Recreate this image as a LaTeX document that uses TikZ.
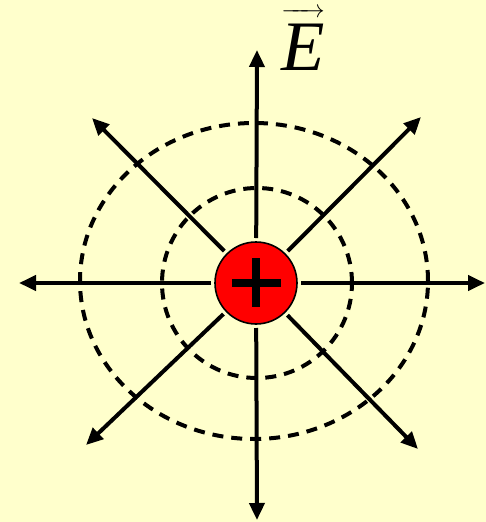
\documentclass[tikz,border=0pt]{standalone}
\usepackage{fontspec}
\setmainfont{Liberation Serif}
\usetikzlibrary{positioning,arrows.meta}
\definecolor{paper}{HTML}{FFFFCC}
\definecolor{charge}{HTML}{FF0000}

\begin{document}
\begin{tikzpicture}[x=1pt, y=-1pt, >={Triangle[length=17pt, width=15pt]}]
	% Background and frame of the picture
	\fill[paper] (0,0) rectangle (486,522);
	\useasboundingbox (0,0) rectangle (486,522);

	% Equipotential lines
	\draw[line width=4pt, dash pattern=on 11pt off 8pt] (257,283) ellipse [x radius=95pt, y radius=95pt];
	\draw[line width=4pt, dash pattern=on 11pt off 8pt] (254,281) ellipse [x radius=174pt, y radius=158pt];

	% Positive point charge
	\node[draw, circle, fill=charge, line width=1.6pt, minimum size=82pt, inner sep=0pt, outer sep=4pt] (q) at (256,283) {};
	\draw[line width=8.5pt] (232,283) -- (281,283);
	\draw[line width=8.5pt] (256,258) -- (256,307);

	% End points of the field lines
	\coordinate (up) at (257,50);
	\coordinate (down) at (257,520);
	\coordinate (left) at (19,283);
	\coordinate (right) at (485,283);
	\coordinate (ul) at (92,118);
	\coordinate (ur) at (421,117);
	\coordinate (dl) at (86,445);
	\coordinate (dr) at (418,449);

	% Field lines pointing outwards
	\draw[->, line width=4pt] (q) -- (up);
	\draw[->, line width=4pt] (q) -- (down);
	\draw[->, line width=4pt] (q) -- (left);
	\draw[->, line width=4pt] (q) -- (right);
	\draw[->, line width=4pt] (q) -- (ul);
	\draw[->, line width=4pt] (q) -- (ur);
	\draw[->, line width=4pt] (q) -- (dl);
	\draw[->, line width=4pt] (q) -- (dr);

	% Label of the field
	\node[anchor=base, inner sep=0pt, font=\fontsize{71}{71}\selectfont] (lbl) at (303,70) {$\overrightarrow{\mbox{\itshape E}\rule{0pt}{54pt}}$};
\end{tikzpicture}
\end{document}
